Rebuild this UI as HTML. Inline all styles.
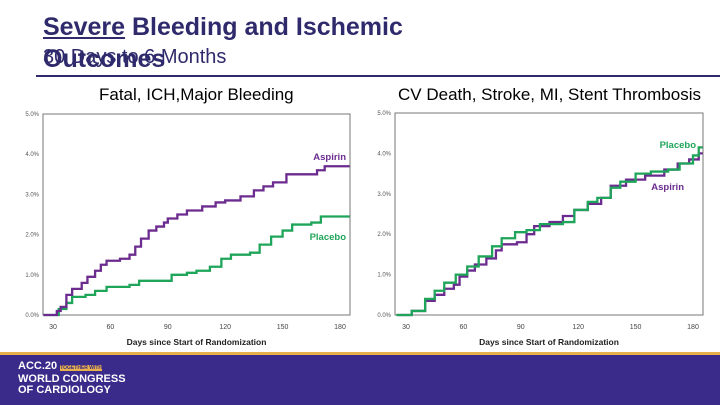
<!DOCTYPE html>
<html><head><meta charset="utf-8"><style>
body{margin:0;width:720px;height:405px;overflow:hidden;background:#fff;font-family:"Liberation Sans",Arial,sans-serif;position:relative}
.t{position:absolute;white-space:nowrap;color:#2e2a6b}
</style></head><body>
<div class="t" style="left:43px;top:13px;font-size:25px;letter-spacing:0px;font-weight:bold"><u>Severe</u> Bleeding and Ischemic</div>
<div class="t" style="left:43px;top:45px;font-size:25px;letter-spacing:0px;font-weight:bold">Outcomes</div>
<div class="t" style="left:43px;top:46px;font-size:20px">30 Days to 6 Months</div>
<div style="position:absolute;left:36px;top:75px;width:684px;height:2px;background:#2e2a6b"></div>
<div class="t" style="left:99px;top:85px;font-size:17px;color:#000">Fatal, ICH,Major Bleeding</div>
<div class="t" style="left:398px;top:85px;font-size:17px;color:#000">CV Death, Stroke, MI, Stent Thrombosis</div>
<svg id="svg" width="720" height="405" style="position:absolute;left:0;top:0"></svg>
<div style="position:absolute;left:0;top:352px;width:720px;height:53px;background:#3a2a8a;border-top:3px solid #e8b04a;box-sizing:border-box">
<div style="position:absolute;left:18px;top:6px;color:#fff;font-size:11px;line-height:11px;font-weight:bold;font-family:'Liberation Sans Narrow','Liberation Sans',sans-serif">ACC.20 <span style="font-size:5px;background:#e8b04a;color:#3a2a8a">TOGETHER WITH</span><br>WORLD CONGRESS<br>OF CARDIOLOGY</div>
</div>
<script>
const ticksY=[0,1,2,3,4,5];
const ticksX=[30,60,90,120,150,180];
const leftAspD=[25,30,32,34,37,40,45,48,52,55,58,65,70,73,76,80,84,88,90,95,100,108,115,120,128,135,140,145,152,163,168,172,185];
const leftAspV=[0,0,0.1,0.2,0.5,0.65,0.8,0.95,1.1,1.25,1.35,1.4,1.5,1.7,1.9,2.1,2.2,2.3,2.4,2.5,2.6,2.7,2.8,2.85,2.95,3.1,3.2,3.3,3.5,3.5,3.6,3.7,3.7];
const leftPlaD=[25,30,33,37,40,47,52,58,70,75,88,92,100,105,112,118,123,133,138,144,150,155,165,170,185];
const leftPlaV=[0,0,0.15,0.3,0.45,0.5,0.6,0.7,0.75,0.85,0.85,1.0,1.05,1.1,1.2,1.4,1.5,1.55,1.75,1.95,2.1,2.25,2.3,2.45,2.45];
const rightAspD=[25,30,33,40,45,50,55,58,62,66,72,77,80,88,93,97,105,112,118,125,132,137,145,155,165,172,178,183,185];
const rightAspV=[0,0,0.1,0.35,0.5,0.65,0.75,0.95,1.1,1.25,1.4,1.6,1.75,1.8,2.0,2.2,2.3,2.45,2.6,2.75,2.9,3.2,3.35,3.45,3.6,3.75,3.85,4.0,4.0];
const rightPlaD=[25,30,33,40,45,50,56,62,68,75,80,87,93,100,112,118,125,130,137,142,150,158,167,173,180,183,185];
const rightPlaV=[0,0,0.1,0.4,0.6,0.8,1.0,1.2,1.45,1.7,1.9,2.05,2.1,2.25,2.3,2.6,2.8,2.9,3.15,3.3,3.5,3.55,3.6,3.75,3.95,4.15,4.15];
const NS='http://www.w3.org/2000/svg';
const svg=document.getElementById('svg');
function mk(tag,attrs,parent){const e=document.createElementNS(NS,tag);for(const k in attrs)e.setAttribute(k,attrs[k]);(parent||svg).appendChild(e);return e;}
function chart(pfx,left,right,x30,x180,y0,y5,sets,labels){
  const X=d=>x30+(d-30)*(x180-x30)/150, Y=v=>y0+(y5-y0)*v/5;
  const g=mk('g',{});
  
  
  const f=mk('rect',{x:left,y:y5,width:right-left,height:y0-y5,fill:'none',stroke:'#777','stroke-width':1},g);
  
  
  ticksY.forEach(v=>{const t=mk('text',{x:left-4,y:Y(v)+2,'font-size':6,'text-anchor':'end',fill:'#555'},g);t.textContent=v.toFixed(1)+'%';
    
    });
  ticksX.forEach(d=>{const t=mk('text',{x:X(d),y:y0+14,'font-size':7,'text-anchor':'middle',fill:'#444'},g);t.textContent=d;
    
    });
  const xt=mk('text',{x:(left+right)/2,y:y0+30,'font-size':8.5,'font-weight':'bold','text-anchor':'middle',fill:'#222'},g);
  xt.textContent='Days since Start of Randomization';
  
  
  sets.forEach(s=>{let p='';s.d.forEach((d,i)=>{const x=Math.min(Math.max(X(d),left),right);if(i==0)p='M'+x+','+Y(s.v[i]);else p+='H'+x+'V'+Y(s.v[i]);});
    const l=mk('path',{d:p,fill:'none',stroke:s.c,'stroke-width':2.3},g);
    
    });
  labels.forEach(L=>{const t=mk('text',{x:L.x,y:L.y,'font-size':9.5,'font-weight':'bold','text-anchor':'end',fill:L.c},g);t.textContent=L.t;
    
    });
}
const P='#6b2b8f',G='#1fa55a';
chart('left',43,350,53,340,315,114,[{d:leftPlaD,v:leftPlaV,c:G,n:'placebo'},{d:leftAspD,v:leftAspV,c:P,n:'aspirin'}],
  [{x:346,y:160,t:'Aspirin',c:P},{x:346,y:240,t:'Placebo',c:G}]);
chart('right',395,703,406,693,315,113,[{d:rightAspD,v:rightAspV,c:P,n:'aspirin'},{d:rightPlaD,v:rightPlaV,c:G,n:'placebo'}],
  [{x:696,y:148,t:'Placebo',c:G},{x:684,y:190,t:'Aspirin',c:P}]);
</script>
</body></html>
